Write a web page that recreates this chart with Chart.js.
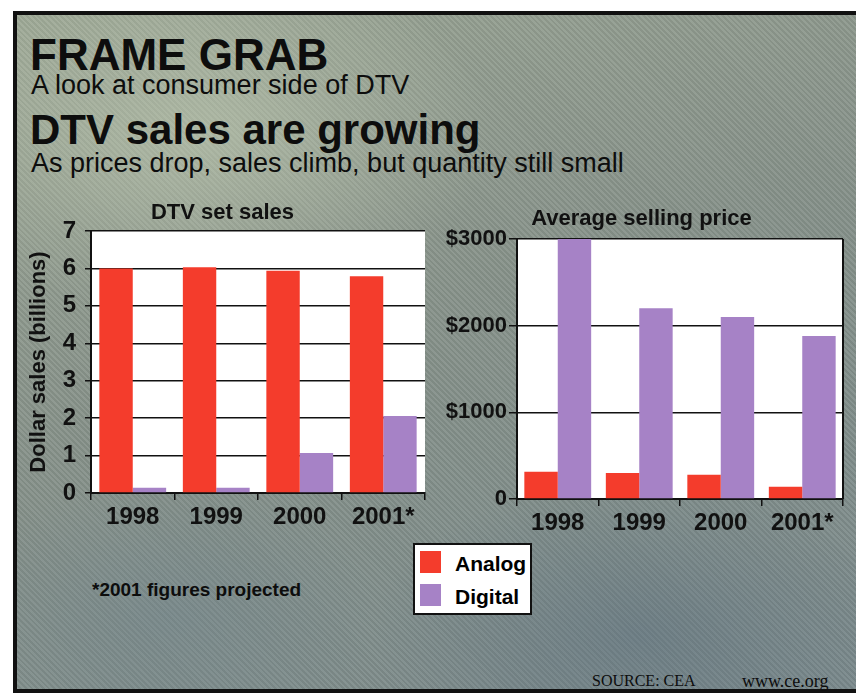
<!DOCTYPE html>
<html>
<head>
<meta charset="utf-8">
<script src="https://cdn.jsdelivr.net/npm/chart.js@4.4.1/dist/chart.umd.min.js"></script>
<style>
  html, body { margin: 0; padding: 0; background: #fff; }
  #page { position: relative; width: 856px; height: 696px; overflow: hidden; background: #fff; }
  #frame {
    position: absolute; left: 13px; top: 11px; width: 860px; height: 674px;
    border: 4px solid #111;
    background:
      radial-gradient(ellipse 420px 260px at 180px 120px, rgba(195,205,180,0.55), rgba(195,205,180,0) 70%),
      radial-gradient(ellipse 380px 220px at 620px 620px, rgba(90,110,125,0.45), rgba(90,110,125,0) 70%),
      radial-gradient(ellipse 300px 200px at 150px 600px, rgba(110,130,140,0.4), rgba(110,130,140,0) 70%),
      repeating-linear-gradient(45deg, rgba(255,255,255,0.06) 0 2px, rgba(0,0,0,0.05) 2px 4px),
      linear-gradient(160deg, #9ca795 0%, #87928a 45%, #7b8a8c 100%);
  }
  .txt { position: absolute; color: #0d0d0d; white-space: nowrap; line-height: 1; }
  .head { font-family: "Liberation Sans", Arial, sans-serif; }
  .bold { font-family: "Liberation Sans", Arial, sans-serif; font-weight: bold; }
  canvas { position: absolute; }
  #legend {
    position: absolute; left: 413px; top: 543px; width: 115px; height: 68px;
    background: #fff; border: 2px solid #111;
  }
  .item { position: absolute; left: 5px; height: 24px; }
  .swatch { position: absolute; left: 0; top: 0; width: 21px; height: 22px; }
  .label { position: absolute; left: 35px; top: 1px; font-size: 21px; }
  .serif { font-family: "Liberation Serif", "DejaVu Serif", serif; }
</style>
</head>
<body>
<div id="page">
  <div id="frame"></div>
  <div class="txt head" style="left:30px; top:33px; font-size:44px; font-weight:bold;">FRAME GRAB</div>
  <div class="txt head" style="left:31px; top:72px; font-size:27px;">A look at consumer side of DTV</div>
  <div class="txt head" style="left:30px; top:109px; font-size:42px; font-weight:bold;">DTV sales are growing</div>
  <div class="txt head" style="left:31px; top:150px; font-size:27px;">As prices drop, sales climb, but quantity still small</div>

  <canvas id="salesChart" width="420" height="345" style="left:20px; top:195px;"></canvas>
  <canvas id="priceChart" width="416" height="345" style="left:440px; top:195px;"></canvas>

  <div class="txt bold" style="left:92px; top:580px; font-size:19px;">*2001 figures projected</div>
  <div id="legend"></div>
  <div class="txt serif" style="left:592px; top:673px; font-size:16px;">SOURCE: CEA</div>
  <div class="txt serif" style="left:742px; top:672px; font-size:18px;">www.ce.org</div>
</div>

<script>
const years = ['1998', '1999', '2000', '2001*'];
const seriesNames = ['Analog', 'Digital'];
const seriesColors = ['#f43c2c', '#a682c6'];

// DTV set sales, $ billions
const salesAnalog = [6.0, 6.03, 5.94, 5.79];
const salesDigital = [0.14, 0.14, 1.07, 2.06];

// Average selling price, $
const priceAnalog = [315, 300, 280, 140];
const priceDigital = [3000, 2200, 2100, 1880];
const priceTickLabels = ['0', '$1000', '$2000', '$3000'];

const helv = '"Liberation Sans", Arial, sans-serif';

// white plot background + optional right border
const plotBox = {
    id: 'plotBox',
    beforeDraw: function(chart, args, opts) {
        const a = chart.chartArea;
        const ctx = chart.ctx;
        ctx.save();
        ctx.fillStyle = '#ffffff';
        ctx.fillRect(a.left, a.top, a.right - a.left, a.bottom - a.top);
        ctx.restore();
    },
    afterDraw: function(chart, args, opts) {
        if (!opts.rightBorder) return;
        const a = chart.chartArea;
        const ctx = chart.ctx;
        ctx.save();
        ctx.strokeStyle = '#111';
        ctx.lineWidth = 2;
        ctx.beginPath();
        ctx.moveTo(a.right, a.top);
        ctx.lineTo(a.right, a.bottom);
        ctx.stroke();
        ctx.restore();
    }
};

function makeDatasets(analog, digital, catPct) {
    return [analog, digital].map(function(vals, i) {
        return {
            label: seriesNames[i],
            data: vals,
            backgroundColor: seriesColors[i],
            borderWidth: 0,
            categoryPercentage: catPct,
            barPercentage: 1.0
        };
    });
}

function baseOptions(o) {
    return {
        responsive: false,
        animation: false,
        layout: { padding: { top: 0, left: 0, right: o.padRight, bottom: 0 } },
        plugins: {
            legend: { display: false },
            tooltip: { enabled: false },
            plotBox: { rightBorder: o.rightBorder },
            title: {
                display: true,
                text: o.title,
                color: '#111',
                font: { family: helv, size: 22, weight: 'bold' },
                padding: o.titlePad
            }
        },
        scales: {
            x: {
                afterFit: function(scale) { scale.height = o.xHeight; },
                grid: {
                    offset: true,
                    drawOnChartArea: false,
                    drawTicks: true,
                    tickLength: 7,
                    color: '#111',
                    lineWidth: 1.5
                },
                border: { display: true, color: '#111', width: 2 },
                ticks: {
                    color: '#111',
                    padding: 3,
                    maxRotation: 0,
                    minRotation: 0,
                    autoSkip: false,
                    font: { family: helv, size: 24, weight: 'bold' }
                }
            },
            y: {
                min: 0,
                max: o.max,
                afterFit: function(scale) { scale.width = o.yWidth; },
                title: o.yTitle,
                grid: {
                    color: '#111',
                    lineWidth: 1.5,
                    drawTicks: true,
                    tickLength: o.tickLen
                },
                border: { display: true, color: '#111', width: 2 },
                ticks: {
                    stepSize: o.step,
                    padding: o.tickPad,
                    color: '#111',
                    font: { family: helv, size: o.yFont, weight: 'bold' },
                    callback: o.tickCb
                }
            }
        }
    };
}

new Chart(document.getElementById('salesChart'), {
    type: 'bar',
    data: { labels: years, datasets: makeDatasets(salesAnalog, salesDigital, 0.8) },
    options: baseOptions({
        title: 'DTV set sales',
        titlePad: { top: 5, bottom: 4.6 },
        padRight: 15,
        xHeight: 47,
        yWidth: 71,
        max: 7,
        step: 1,
        tickLen: 6,
        tickPad: 9,
        yFont: 24,
        rightBorder: false,
        tickCb: function(v) { return v; },
        yTitle: {
            display: true,
            text: 'Dollar sales (billions)',
            color: '#111',
            font: { family: helv, size: 22, weight: 'bold' },
            padding: { top: 6, bottom: 0 }
        }
    }),
    plugins: [plotBox]
});

new Chart(document.getElementById('priceChart'), {
    type: 'bar',
    data: { labels: years, datasets: makeDatasets(priceAnalog, priceDigital, 0.82) },
    options: baseOptions({
        title: 'Average selling price',
        titlePad: { top: 11, bottom: 6.6 },
        padRight: 13,
        xHeight: 41,
        yWidth: 77,
        max: 3000,
        step: 1000,
        tickLen: 8,
        tickPad: 2,
        yFont: 22,
        rightBorder: true,
        tickCb: function(v, i) { return priceTickLabels[i]; },
        yTitle: { display: false }
    }),
    plugins: [plotBox]
});

// shared legend box
const legend = document.getElementById('legend');
seriesNames.forEach(function(name, i) {
    const item = document.createElement('div');
    item.className = 'item';
    item.style.top = (6 + i * 33) + 'px';
    const sw = document.createElement('span');
    sw.className = 'swatch';
    sw.style.background = seriesColors[i];
    const lb = document.createElement('span');
    lb.className = 'label bold';
    lb.textContent = name;
    item.appendChild(sw);
    item.appendChild(lb);
    legend.appendChild(item);
});
</script>
</body>
</html>
